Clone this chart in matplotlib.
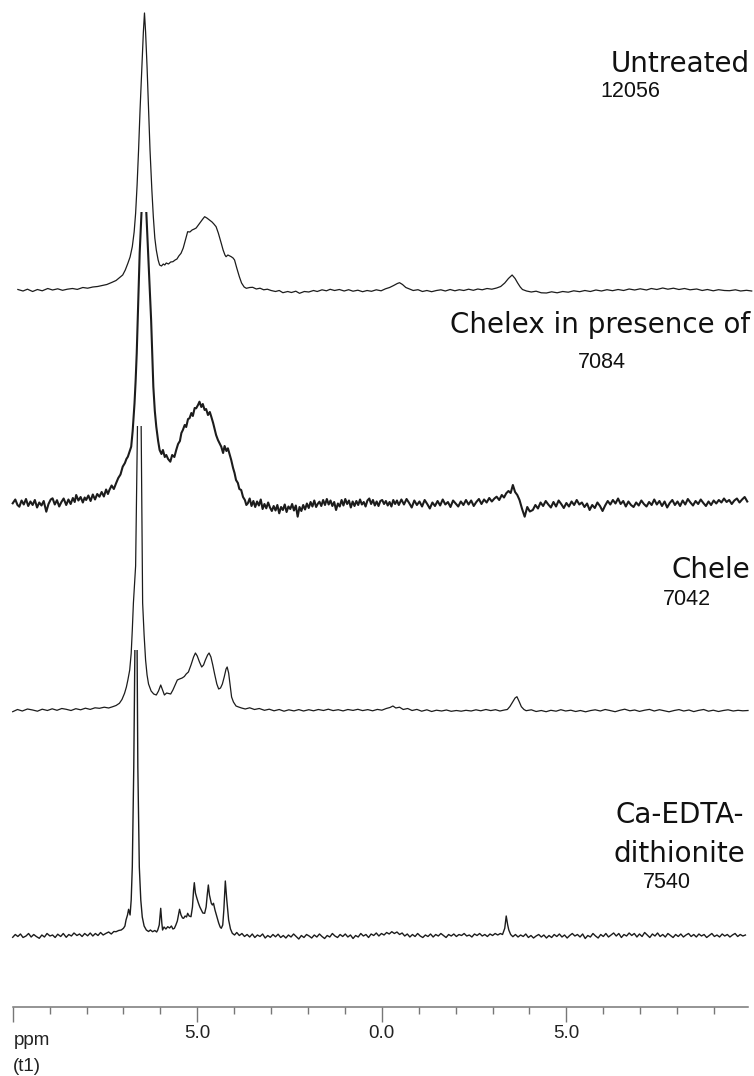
import matplotlib
matplotlib.use("Agg")
import matplotlib.pyplot as plt
from matplotlib.patches import Rectangle
from matplotlib.ticker import FixedLocator

# stacked 1H spectra, chemical shift in ppm, intensity in plot units above each baseline

# Untreated
ppm_untreated = [
    9.86, 9.72, 9.60, 9.46, 9.33, 9.20, 9.05, 8.92, 8.78, 8.65,
    8.52, 8.38, 8.25, 8.10, 7.97, 7.83, 7.70, 7.58, 7.45, 7.32,
    7.20, 7.10, 7.02, 6.95, 6.88, 6.82, 6.76, 6.71, 6.67, 6.63,
    6.59, 6.55, 6.50, 6.46, 6.43, 6.40, 6.36, 6.32, 6.28, 6.23,
    6.19, 6.15, 6.11, 6.06, 6.02, 5.97, 5.92, 5.88, 5.84, 5.78,
    5.72, 5.66, 5.60, 5.55, 5.50, 5.44, 5.38, 5.32, 5.26, 5.20,
    5.14, 5.08, 5.03, 4.97, 4.91, 4.85, 4.80, 4.74, 4.67, 4.60,
    4.55, 4.49, 4.43, 4.39, 4.35, 4.30, 4.25, 4.22, 4.17, 4.12,
    4.08, 4.03, 3.99, 3.93, 3.86, 3.80, 3.73, 3.67, 3.58, 3.50,
    3.40, 3.30, 3.20, 3.10, 3.00, 2.88, 2.78, 2.68, 2.55, 2.45,
    2.33, 2.23, 2.10, 1.98, 1.85, 1.75, 1.62, 1.50, 1.40, 1.28,
    1.15, 1.02, 0.90, 0.78, 0.65, 0.52, 0.40, 0.28, 0.15, 0.02,
    -0.10, -0.21, -0.32, -0.42, -0.48, -0.56, -0.65, -0.75, -0.85, -0.98,
    -1.10, -1.22, -1.35, -1.48, -1.60, -1.72, -1.85, -1.98, -2.10, -2.22,
    -2.35, -2.48, -2.60, -2.72, -2.85, -2.98, -3.11, -3.22, -3.33, -3.43,
    -3.53, -3.61, -3.68, -3.75, -3.81, -3.92, -4.05, -4.18, -4.32, -4.46,
    -4.60, -4.75, -4.90, -5.05, -5.20, -5.36, -5.50, -5.65, -5.80, -5.95,
    -6.10, -6.25, -6.40, -6.55, -6.70, -6.85, -7.00, -7.17, -7.30, -7.45,
    -7.61, -7.75, -7.90, -8.05, -8.20, -8.35, -8.53, -8.68, -8.82, -8.98,
    -9.12, -9.28, -9.42, -9.58, -9.72, -9.88, -10.02]
int_untreated = [
    0.5, -1.0, 0.8, -1.5, 0.5, -0.8, 1.5, 0.0, 1.2, -0.3,
    0.8, 1.5, 0.6, 2.5, 1.8, 3.0, 3.5, 4.5, 5.5, 7.5,
    9.5, 12.5, 15, 20, 26.7, 33, 43.3, 58, 76.7, 105,
    140, 180, 223, 258, 277, 258, 223, 180, 140, 100,
    73, 52, 40, 30, 25, 24, 26, 25, 27, 26,
    28, 28.3, 30, 31, 34, 36.7, 42, 50, 58.3, 58,
    60, 61, 62, 65, 68, 71, 73.3, 72, 70, 68,
    66, 63.3, 57, 52, 46.7, 40, 35, 33.3, 35, 34,
    33.3, 32, 30, 22, 13.3, 7, 3, 1.7, 2.5, 2.7,
    1.0, 1.8, 0.2, 0.8, -0.5, -1.5, -0.5, -2.7, -1.5, -2.5,
    -1.2, -3.3, -1.5, -2.0, -0.5, -1.5, 0.2, -0.8, 0.7, -0.5,
    0.5, -1.0, 0.3, -1.2, -0.2, -1.7, -0.5, -1.3, 0.2, -0.8,
    1.2, 2.5, 4.5, 6.5, 7.3, 5.5, 2.5, 1.0, -0.5, 0.3,
    -1.5, -0.5, -1.7, -0.5, 0.2, -1.0, 0.5, -0.8, 0.3, -0.5,
    0.8, -0.3, 1.0, 0.2, 1.5, 0.8, 2.0, 3.5, 7.0, 11.5,
    15.0, 11.5, 7.0, 3.0, 0.5, -1.0, -2.0, -1.2, -2.8, -3.0,
    -1.8, -2.8, -1.5, -2.2, -0.8, -1.7, -0.5, -1.5, 0.0, -1.0,
    0.3, -0.7, 0.5, -0.5, 1.0, 0.0, 1.2, 0.0, 1.5, 0.5,
    2.0, 0.8, 1.8, 0.5, 1.5, 0.2, 1.0, -0.5, 0.5, -0.8,
    0.3, -0.5, -0.7, 0.2, -1.0, -0.3, -1.0]

# Chelex in presence of
ppm_chelex_pres = [
    10.00, 9.93, 9.87, 9.82, 9.76, 9.70, 9.64, 9.58, 9.52, 9.46,
    9.40, 9.34, 9.28, 9.22, 9.16, 9.09, 9.03, 8.97, 8.92, 8.86,
    8.80, 8.74, 8.68, 8.62, 8.55, 8.49, 8.43, 8.37, 8.32, 8.28,
    8.22, 8.16, 8.10, 8.05, 8.01, 7.95, 7.89, 7.83, 7.77, 7.71,
    7.65, 7.59, 7.53, 7.47, 7.42, 7.38, 7.32, 7.26, 7.20, 7.14,
    7.08, 7.02, 6.96, 6.92, 6.88, 6.83, 6.79, 6.75, 6.70, 6.67,
    6.64, 6.60, 6.56, 6.51, 6.44, 6.38, 6.32, 6.25, 6.19, 6.15,
    6.11, 6.06, 6.02, 5.97, 5.93, 5.88, 5.84, 5.79, 5.73, 5.68,
    5.62, 5.57, 5.52, 5.47, 5.43, 5.39, 5.34, 5.30, 5.25, 5.21,
    5.16, 5.12, 5.07, 5.03, 4.98, 4.94, 4.89, 4.85, 4.80, 4.76,
    4.71, 4.66, 4.62, 4.57, 4.53, 4.49, 4.44, 4.40, 4.35, 4.30,
    4.26, 4.21, 4.17, 4.12, 4.08, 4.03, 3.99, 3.95, 3.90, 3.86,
    3.81, 3.76, 3.71, 3.67, 3.63, 3.58, 3.53, 3.48, 3.43, 3.38,
    3.33, 3.28, 3.23, 3.18, 3.13, 3.08, 3.03, 2.98, 2.93, 2.88,
    2.83, 2.78, 2.73, 2.68, 2.63, 2.58, 2.53, 2.48, 2.43, 2.38,
    2.33, 2.28, 2.23, 2.18, 2.13, 2.08, 2.03, 1.98, 1.93, 1.88,
    1.83, 1.78, 1.73, 1.69, 1.64, 1.59, 1.54, 1.49, 1.44, 1.39,
    1.34, 1.29, 1.24, 1.19, 1.14, 1.09, 1.04, 0.99, 0.94, 0.89,
    0.84, 0.79, 0.74, 0.69, 0.64, 0.59, 0.54, 0.49, 0.44, 0.39,
    0.34, 0.29, 0.24, 0.19, 0.14, 0.09, 0.04, -0.01, -0.06, -0.11,
    -0.16, -0.21, -0.26, -0.31, -0.36, -0.41, -0.46, -0.53, -0.60, -0.67,
    -0.74, -0.81, -0.88, -0.95, -1.02, -1.09, -1.16, -1.23, -1.30, -1.37,
    -1.44, -1.51, -1.58, -1.65, -1.72, -1.79, -1.86, -1.93, -2.00, -2.07,
    -2.14, -2.21, -2.28, -2.35, -2.42, -2.49, -2.56, -2.63, -2.70, -2.77,
    -2.84, -2.91, -2.98, -3.05, -3.11, -3.18, -3.25, -3.31, -3.37, -3.43,
    -3.49, -3.55, -3.61, -3.67, -3.73, -3.80, -3.87, -3.94, -4.01, -4.09,
    -4.16, -4.23, -4.30, -4.37, -4.44, -4.51, -4.58, -4.65, -4.72, -4.79,
    -4.86, -4.93, -5.00, -5.07, -5.14, -5.21, -5.28, -5.35, -5.42, -5.49,
    -5.56, -5.63, -5.70, -5.77, -5.84, -5.91, -5.98, -6.05, -6.12, -6.19,
    -6.26, -6.33, -6.40, -6.47, -6.54, -6.61, -6.68, -6.75, -6.82, -6.89,
    -6.96, -7.03, -7.10, -7.17, -7.24, -7.31, -7.38, -7.45, -7.52, -7.59,
    -7.66, -7.73, -7.80, -7.87, -7.94, -8.01, -8.08, -8.15, -8.22, -8.29,
    -8.36, -8.43, -8.50, -8.57, -8.64, -8.71, -8.78, -8.85, -8.92, -8.99,
    -9.06, -9.13, -9.20, -9.27, -9.34, -9.41, -9.48, -9.55, -9.62, -9.69,
    -9.76, -9.83, -9.90]
int_chelex_pres = [
    -0.3, 3.5, -2.0, -3.7, 2.5, -1.5, 4.0, -3.0, 1.5, -2.0,
    3.0, -4.5, 0.5, -2.5, 2.0, -8.7, -1.0, 3.5, 4.7, -1.5,
    2.8, -3.5, 1.0, 4.5, -2.0, 3.5, -1.0, 5.0, 1.0, 8.0,
    2.5, 6.0, 0.5, 5.5, 3.0, 7.5, 2.0, 8.5, 3.5, 9.0,
    6.3, 11.0, 6.5, 13.5, 9.0, 13.0, 17.5, 14.0, 19.7, 25.0,
    28.5, 36.3, 40.0, 44.0, 46.3, 52.0, 56.3, 72.0, 99.7, 122,
    149.7, 200, 250, 291, 340, 291, 240, 183, 116.3, 92,
    76.3, 62, 53, 49, 53, 46, 48, 44, 41.3, 48,
    46, 53, 59, 62, 70, 73, 78, 76, 84, 84.7,
    90, 87, 95, 94.7, 98, 101.3, 96, 99, 93, 94,
    88, 91, 86.3, 80, 74, 68, 63, 60, 56.3, 50,
    57, 52, 54.7, 48, 43, 35, 30, 23, 20, 14,
    13, 6, 3, -2, -0.3, 4.5, -3.0, 2.0, -4.0, 1.5,
    -2.5, 3.5, -6.0, -1.0, -5.3, 0.5, -4.5, -8.0, -3.0, -7.5,
    -2.0, -10.3, -4.0, -7.0, -1.5, -9.0, -3.5, -6.0, -1.0, -7.5,
    -2.5, -13.7, -4.0, -8.0, -2.0, -6.5, -0.5, -5.0, 1.0, -3.5,
    2.5, -4.0, -0.5, 1.3, -3.0, 3.0, -2.0, 4.0, -1.5, 2.5,
    -3.0, 1.0, -7.0, -0.5, -3.5, 3.0, -2.5, 4.0, -1.0, 2.5,
    -4.5, 1.5, -3.0, 2.0, -2.0, 3.5, -1.5, 1.0, -3.5, 2.5,
    4.5, -1.0, 3.0, -2.5, 1.5, -3.0, 2.0, 3.0, -1.0, 2.0,
    -2.5, 1.0, -3.5, 3.0, -1.0, 2.5, -2.0, 3.5, -1.5, 4.0,
    0.0, -4.5, 2.5, -2.0, 1.5, -3.5, 3.0, -1.0, -5.5, 0.5,
    -3.0, 2.0, -2.5, 3.5, -1.5, 1.0, -4.0, 2.5, -0.5, -3.5,
    1.5, -2.0, 3.0, -1.5, 2.5, -3.0, 1.0, 4.0, -1.0, 3.5,
    0.5, 5.0, 1.5, 4.5, 6.3, 3.0, 8.0, 5.5, 9.7, 12.0,
    10.0, 18.0, 11.0, 8.0, 3.0, -6.0, -13.7, -4.0, -8.5, -7.0,
    -2.0, -5.5, 0.5, -3.0, 2.0, -1.5, -4.5, 1.0, -3.5, 2.5,
    -1.0, -5.0, 0.0, -3.5, 1.5, -2.0, 3.0, -1.5, 0.5, -4.0,
    -0.5, -7.0, -2.0, -5.0, 0.5, -3.0, -8.0, -2.5, 2.0, -1.5,
    3.0, -0.5, 4.5, -1.0, 2.0, -3.5, 1.5, -2.0, -4.0, 0.5,
    -2.5, 2.5, -1.0, -3.5, 1.0, -2.0, 3.5, -1.5, 2.0, -3.0,
    1.5, -4.5, 0.0, 3.0, -2.0, 1.5, -3.0, 2.5, -1.5, 4.0,
    0.5, -2.5, 2.0, -1.0, 3.5, 0.0, -3.0, 1.5, -2.0, 2.5,
    -0.5, 3.0, 0.5, 4.5, 1.0, 3.0, -1.0, 2.5, 4.5, 0.5,
    3.5, 6.0, 1.5]

# Chele
ppm_chele = [
    10.00, 9.87, 9.74, 9.60, 9.46, 9.33, 9.20, 9.06, 8.93, 8.80,
    8.67, 8.55, 8.42, 8.29, 8.16, 8.03, 7.90, 7.77, 7.65, 7.52,
    7.40, 7.29, 7.20, 7.11, 7.04, 6.97, 6.92, 6.88, 6.83, 6.79,
    6.76, 6.73, 6.70, 6.67, 6.62, 6.57, 6.52, 6.48, 6.44, 6.40,
    6.36, 6.32, 6.25, 6.18, 6.11, 6.05, 5.99, 5.94, 5.89, 5.83,
    5.78, 5.72, 5.66, 5.60, 5.54, 5.48, 5.41, 5.35, 5.30, 5.24,
    5.17, 5.10, 5.05, 5.00, 4.94, 4.88, 4.83, 4.78, 4.72, 4.68,
    4.63, 4.58, 4.53, 4.47, 4.42, 4.37, 4.32, 4.27, 4.22, 4.19,
    4.15, 4.11, 4.07, 4.02, 3.95, 3.88, 3.80, 3.70, 3.58, 3.45,
    3.32, 3.18, 3.05, 2.92, 2.78, 2.65, 2.52, 2.38, 2.25, 2.12,
    1.98, 1.85, 1.72, 1.58, 1.45, 1.32, 1.18, 1.05, 0.92, 0.78,
    0.65, 0.52, 0.38, 0.25, 0.12, 0.00, -0.12, -0.22, -0.30, -0.38,
    -0.48, -0.58, -0.70, -0.82, -0.95, -1.08, -1.22, -1.35, -1.48, -1.62,
    -1.75, -1.88, -2.02, -2.15, -2.28, -2.42, -2.55, -2.68, -2.82, -2.95,
    -3.08, -3.20, -3.32, -3.40, -3.47, -3.55, -3.61, -3.66, -3.72, -3.78,
    -3.85, -3.91, -4.05, -4.18, -4.32, -4.45, -4.58, -4.72, -4.85, -4.98,
    -5.12, -5.25, -5.38, -5.52, -5.65, -5.78, -5.92, -6.05, -6.18, -6.32,
    -6.45, -6.58, -6.72, -6.85, -6.98, -7.12, -7.25, -7.38, -7.52, -7.65,
    -7.78, -7.92, -8.05, -8.18, -8.32, -8.45, -8.58, -8.72, -8.85, -8.98,
    -9.12, -9.25, -9.38, -9.52, -9.65, -9.78, -9.92]
int_chele = [
    -1.7, 0.5, -1.0, 1.0, 0.0, -1.2, 0.8, -0.5, 1.2, -0.3,
    1.5, 0.7, -0.5, 1.3, 0.2, 1.8, 0.6, 2.2, 1.7, 2.8,
    2.0, 3.3, 4.5, 6.7, 10.5, 16.7, 23, 30, 40, 56.7,
    80, 107, 125, 144, 284, 330, 284, 107, 75, 50,
    35, 26, 19, 16, 15, 19, 25, 20, 15, 17,
    16.5, 16, 20, 25, 30, 31, 32, 33.5, 36, 38,
    45, 53, 57, 54, 48, 43, 45, 50, 55, 57,
    53, 45, 36, 26, 21, 22, 26, 33, 41, 43,
    37, 25, 13, 8, 4, 3, 2, 1, 2.2, 0.5,
    1.5, -0.3, 0.8, -0.8, 0.5, -1.2, 0.2, -0.9, 0.4, -1.0,
    0.3, -0.8, 0.5, -0.5, 0.8, -0.6, 0.3, -0.9, 0.5, -0.4,
    0.7, -0.6, 0.4, -0.8, 0.6, -0.2, 1.5, 2.5, 4.0, 2.0,
    2.8, 0.5, 1.5, -0.5, 0.6, -1.2, 0.2, -1.5, -0.2, -1.0,
    0.0, -1.3, -0.5, -1.2, -0.3, -1.0, 0.2, -0.8, 0.5, -0.6,
    0.3, -1.0, 0.0, 0.5, 3.5, 8.3, 12.0, 13.3, 8.5, 3.3,
    0.5, -0.7, 0.2, -1.5, -0.5, -1.7, -0.3, -1.2, 0.3, -1.0,
    -0.2, -1.5, -0.5, -1.8, -0.6, 0.2, -1.0, 0.5, -0.5, -1.7,
    -0.3, 0.8, -0.8, 0.0, -1.4, -0.2, 0.6, -1.0, 0.3, -0.7,
    -1.8, -0.5, 0.4, -1.0, 0.0, -1.6, -0.4, 0.5, -1.2, -0.2,
    -1.5, -0.5, 0.2, -1.0, -0.3, -0.8, -0.5]

# Ca-EDTA-dithionite
ppm_caedta = [
    10.00, 9.93, 9.86, 9.79, 9.72, 9.64, 9.57, 9.50, 9.43, 9.36,
    9.28, 9.21, 9.14, 9.07, 8.99, 8.92, 8.85, 8.78, 8.70, 8.63,
    8.55, 8.48, 8.41, 8.34, 8.26, 8.19, 8.12, 8.05, 7.97, 7.90,
    7.83, 7.76, 7.69, 7.62, 7.55, 7.47, 7.40, 7.33, 7.26, 7.20,
    7.13, 7.06, 7.00, 6.96, 6.93, 6.89, 6.86, 6.82, 6.79, 6.76,
    6.72, 6.69, 6.67, 6.63, 6.61, 6.57, 6.53, 6.49, 6.44, 6.38,
    6.32, 6.27, 6.21, 6.15, 6.10, 6.07, 6.03, 5.99, 5.96, 5.94,
    5.90, 5.85, 5.80, 5.75, 5.70, 5.66, 5.62, 5.58, 5.54, 5.51,
    5.48, 5.44, 5.40, 5.37, 5.33, 5.29, 5.26, 5.22, 5.17, 5.13,
    5.10, 5.08, 5.05, 5.01, 4.97, 4.93, 4.89, 4.85, 4.80, 4.76,
    4.73, 4.70, 4.67, 4.62, 4.59, 4.56, 4.52, 4.47, 4.42, 4.38,
    4.35, 4.31, 4.28, 4.24, 4.20, 4.15, 4.10, 4.05, 3.99, 3.93,
    3.86, 3.79, 3.72, 3.65, 3.58, 3.51, 3.44, 3.37, 3.30, 3.23,
    3.16, 3.09, 3.02, 2.95, 2.88, 2.81, 2.74, 2.67, 2.60, 2.53,
    2.46, 2.39, 2.32, 2.25, 2.18, 2.11, 2.04, 1.97, 1.90, 1.83,
    1.76, 1.69, 1.62, 1.55, 1.48, 1.41, 1.34, 1.27, 1.20, 1.13,
    1.06, 0.99, 0.92, 0.85, 0.78, 0.71, 0.64, 0.57, 0.50, 0.43,
    0.36, 0.29, 0.22, 0.15, 0.08, 0.01, -0.06, -0.13, -0.20, -0.27,
    -0.34, -0.41, -0.48, -0.55, -0.62, -0.69, -0.76, -0.83, -0.90, -0.97,
    -1.04, -1.11, -1.18, -1.25, -1.32, -1.39, -1.46, -1.53, -1.60, -1.67,
    -1.74, -1.81, -1.88, -1.95, -2.02, -2.09, -2.16, -2.23, -2.30, -2.37,
    -2.44, -2.51, -2.58, -2.65, -2.72, -2.79, -2.86, -2.93, -3.00, -3.07,
    -3.14, -3.21, -3.27, -3.33, -3.37, -3.41, -3.44, -3.49, -3.55, -3.62,
    -3.69, -3.76, -3.83, -3.90, -3.97, -4.04, -4.11, -4.18, -4.25, -4.32,
    -4.39, -4.46, -4.53, -4.60, -4.67, -4.74, -4.81, -4.88, -4.95, -5.02,
    -5.09, -5.16, -5.23, -5.30, -5.37, -5.44, -5.51, -5.58, -5.65, -5.72,
    -5.79, -5.86, -5.93, -6.00, -6.07, -6.14, -6.21, -6.28, -6.35, -6.42,
    -6.49, -6.56, -6.63, -6.70, -6.77, -6.84, -6.91, -6.98, -7.05, -7.12,
    -7.19, -7.26, -7.33, -7.40, -7.47, -7.54, -7.61, -7.68, -7.75, -7.82,
    -7.89, -7.96, -8.03, -8.10, -8.17, -8.24, -8.31, -8.38, -8.45, -8.52,
    -8.59, -8.66, -8.73, -8.80, -8.87, -8.94, -9.01, -9.08, -9.15, -9.22,
    -9.29, -9.36, -9.43, -9.50, -9.57, -9.64, -9.71, -9.78, -9.85]
int_caedta = [
    -2.3, 0.5, -1.5, 1.0, -2.5, -1.0, 1.5, -2.0, 0.5, -1.5,
    -3.3, 0.0, -2.0, 1.5, -1.0, 0.0, -2.5, 0.8, -1.5, 1.5,
    -2.3, 0.5, -1.0, 2.0, -0.5, 1.0, -1.5, 1.5, -0.8, 2.0,
    -1.0, 1.5, -0.5, 2.5, 0.0, 1.7, 3.0, 1.0, 3.5, 3.3,
    4.5, 5.0, 6.7, 9.0, 15.0, 20.0, 25.7, 20.0, 35.0, 68.0,
    168.0, 285.0, 330.0, 285.0, 168.0, 68.0, 35.0, 18.0, 9.0, 5.0,
    3.5, 5.0, 3.3, 4.5, 3.0, 5.0, 10.0, 26.7, 12.0, 5.0,
    8.0, 6.0, 8.3, 7.0, 9.0, 6.0, 6.7, 10.0, 14.0, 20.0,
    25.7, 20.0, 17.0, 16.7, 19.0, 18.0, 21.7, 19.0, 18.3, 28.0,
    45.0, 52.3, 42.0, 36.7, 32.0, 28.0, 25.0, 22.0, 21.7, 28.0,
    40.0, 50.0, 40.0, 31.7, 30.0, 31.7, 25.0, 18.3, 12.0, 8.0,
    6.7, 10.0, 25.0, 54.0, 35.0, 15.0, 6.0, 1.7, 0.0, 2.5,
    -0.5, 1.5, -1.5, 0.5, -2.0, 1.0, -2.5, 0.0, -1.5, 1.0,
    -3.0, -0.5, -2.3, 0.5, -1.8, 0.8, -2.5, -0.5, -3.0, 0.0,
    -2.0, 1.0, -1.5, -4.0, -0.5, -2.5, 0.5, -1.0, -3.0, 0.0,
    -2.0, 1.0, -1.5, -3.5, -0.5, -2.0, 1.5, -1.0, -2.5, 0.5,
    -1.5, 1.0, -2.0, 0.0, -3.5, -0.5, -2.0, 1.5, -1.0, 0.5,
    -2.5, 1.0, -0.5, 2.0, -1.0, 1.5, 0.0, 2.5, 1.0, 3.3,
    1.5, 3.0, 0.5, 2.0, -1.0, 1.0, -2.0, 0.5, -1.5, 1.5,
    -1.0, -2.5, 0.0, -1.5, 1.0, -2.0, 0.5, -1.0, 1.5, -0.5,
    -2.5, 0.5, -1.0, 1.0, -1.5, 0.5, -0.5, 1.5, -1.0, 0.0,
    -2.0, 1.0, -0.5, 1.5, -1.0, 0.5, -1.5, 1.0, -0.5, 1.5,
    0.0, 1.5, 0.5, 6.7, 19.0, 10.0, 5.0, 0.5, -1.7, 0.5,
    -2.0, 0.0, -1.5, 1.0, -2.5, -0.5, -3.0, -1.0, 0.5, -2.0,
    0.0, -3.0, -0.5, -2.5, 0.5, -1.5, 1.0, -2.0, 0.0, -3.0,
    -0.5, 1.5, -1.0, 0.5, -2.0, 1.0, -3.5, -0.5, -2.0, 1.5,
    -1.0, -3.0, 0.5, -1.5, 1.5, -2.0, 0.0, 2.0, -1.0, 1.5,
    -2.5, 0.5, -1.0, 2.0, -0.5, 1.5, -2.0, 1.0, -1.5, 2.5,
    0.0, -2.5, 1.0, -1.0, 2.0, -1.5, 0.5, -2.0, 1.5, -0.5,
    -2.5, 0.5, -1.5, 1.0, -2.0, 0.0, 1.5, -1.5, 0.5, -2.0,
    1.0, -1.0, 0.5, -2.5, -0.5, 1.5, -1.5, 0.0, -2.0, 1.0,
    -1.0, 0.5, -2.0, 0.0, 1.5, -1.5, 0.5, -1.0, 0.0]

labels = ["Untreated", "Chelex in presence of", "Chele", "Ca-EDTA-\ndithionite"]
scale_labels = ["12056", "7084", "7042", "7540"]
major_ticks = [10, 5, 0, -5]
major_labels = ["", "5.0", "0.0", "5.0"]
minor_ticks = [9, 8, 7, 6, 4, 3, 2, 1, -1, -2, -3, -4, -6, -7, -8, -9]

W, H = 754, 1076
fig = plt.figure(figsize=(W / 100, H / 100), dpi=100)
ax = fig.add_axes([12.7 / W, 1 - 1007 / H, 735.3 / W, 1007 / H])
ax.set_xlim(10, -9.92)
ax.set_ylim(0, 1007)

# baseline offsets and the height where a trace is cut off
offsets = [717, 504, 297, 72]
ceilings = [None, 291, 284, 285]
widths = [0.9, 1.5, 0.9, 1.0]
series = [(ppm_untreated, int_untreated), (ppm_chelex_pres, int_chelex_pres),
          (ppm_chele, int_chele), (ppm_caedta, int_caedta)]

for (x, y), off, ceil, lw in zip(series, offsets, ceilings, widths):
    ln, = ax.plot(x, [v + off for v in y], color="#1c1c1c", lw=lw,
                  solid_joinstyle="round")
    if ceil is None:
        ln.set_clip_on(False)
    else:
        rect = Rectangle((-11, off - 60), 22, ceil + 60, transform=ax.transData)
        ln.set_clip_path(rect)

for s in ["left", "right", "top"]:
    ax.spines[s].set_visible(False)
ax.spines["bottom"].set_color("#777777")
ax.spines["bottom"].set_linewidth(1.1)
ax.set_yticks([])
ax.xaxis.set_major_locator(FixedLocator(major_ticks))
ax.set_xticklabels(major_labels)
ax.xaxis.set_minor_locator(FixedLocator(minor_ticks))
ax.tick_params(axis="x", which="major", length=10.8, width=1.0, color="#777777",
               pad=2, labelsize=13.5, labelcolor="#222222")
ax.tick_params(axis="x", which="minor", length=5, width=1.0, color="#777777")
for t in ax.get_xticklabels():
    t.set_fontfamily("Liberation Sans")

lab_font = dict(family="DejaVu Sans", size=20, color="#111111")
num_font = dict(family="Liberation Sans", size=15.5, color="#111111")

def fx(px):
    return px / W

def fy(py):
    return 1 - py / H

fig.text(fx(750), fy(72), labels[0], ha="right", va="baseline", **lab_font)
fig.text(fx(600), fy(97), scale_labels[0], ha="left", va="baseline", **num_font)
fig.text(fx(750), fy(333), labels[1], ha="right", va="baseline", **lab_font)
fig.text(fx(578), fy(368), scale_labels[1], ha="left", va="baseline", **num_font)
fig.text(fx(750), fy(578), labels[2], ha="right", va="baseline", **lab_font)
fig.text(fx(663), fy(605), scale_labels[2], ha="left", va="baseline", **num_font)
ca_lines = labels[3].split("\n")
fig.text(fx(680), fy(823), ca_lines[0], ha="center", va="baseline", **lab_font)
fig.text(fx(679), fy(862), ca_lines[1], ha="center", va="baseline", **lab_font)
fig.text(fx(643), fy(888), scale_labels[3], ha="left", va="baseline", **num_font)

axis_font = dict(family="Liberation Sans", size=13.5, color="#222222")
fig.text(fx(14), fy(1045), "ppm", ha="left", va="baseline", **axis_font)
fig.text(fx(13), fy(1071), "(t1)", ha="left", va="baseline", **axis_font)

fig.savefig("out.png", dpi=100)
